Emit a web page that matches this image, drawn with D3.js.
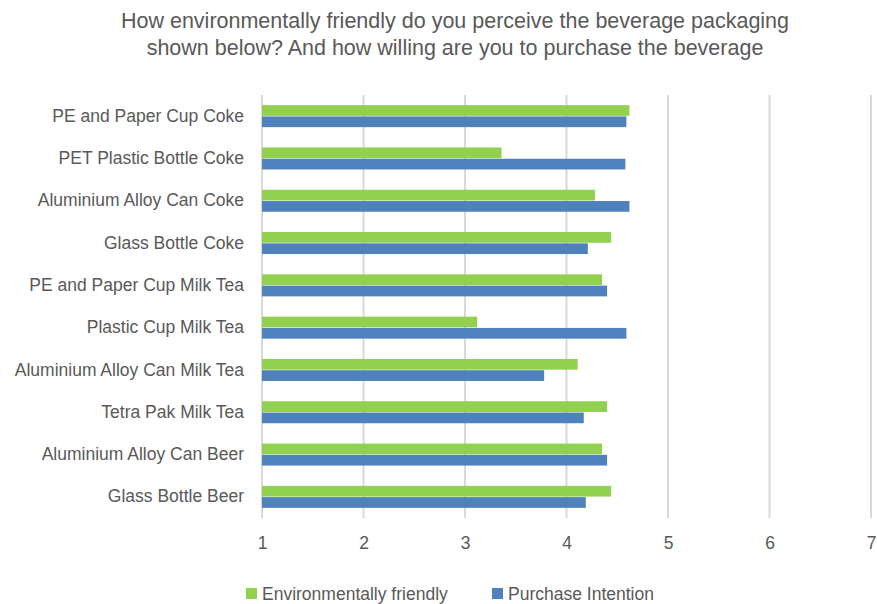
<!DOCTYPE html>
<html>
<head>
<meta charset="utf-8">
<script src="https://cdn.jsdelivr.net/npm/d3@7"></script>
<style>
  body { margin: 0; background: #fff; }
  text { font-family: "Liberation Sans", "DejaVu Sans", sans-serif; fill: #595959; }
</style>
</head>
<body>
<script>
// data
const categories = [
  "PE and Paper Cup Coke",
  "PET Plastic Bottle Coke",
  "Aluminium Alloy Can Coke",
  "Glass Bottle Coke",
  "PE and Paper Cup Milk Tea",
  "Plastic Cup Milk Tea",
  "Aluminium Alloy Can Milk Tea",
  "Tetra Pak Milk Tea",
  "Aluminium Alloy Can Beer",
  "Glass Bottle Beer"
];
const envFriendly = [4.62, 3.36, 4.28, 4.44, 4.35, 3.12, 4.11, 4.40, 4.35, 4.44];
const purchaseIntention = [4.59, 4.58, 4.62, 4.21, 4.40, 4.59, 3.78, 4.17, 4.40, 4.19];
const xTicks = [1, 2, 3, 4, 5, 6, 7];
const seriesNames = ["Environmentally friendly", "Purchase Intention"];
const colors = ["#92d050", "#4f81bd"];

const width = 877, height = 604;
const margin = {top: 95, right: 6, bottom: 86, left: 262};

const svg = d3.select("body").append("svg")
  .attr("width", width)
  .attr("height", height);

// title
svg.append("text")
  .attr("x", 455).attr("y", 28)
  .attr("text-anchor", "middle")
  .style("font-size", "21.5px")
  .text("How environmentally friendly do you perceive the beverage packaging");
svg.append("text")
  .attr("x", 455).attr("y", 55)
  .attr("text-anchor", "middle")
  .style("font-size", "21.5px")
  .text("shown below? And how willing are you to purchase the beverage");

let x = d3.scaleLinear()
  .domain([1, 7])
  .range([margin.left, width - margin.right]);

let y = d3.scaleBand()
  .domain(categories)
  .range([margin.top, height - margin.bottom])
  .paddingInner(0.48)
  .paddingOuter(0.24);

let sub = d3.scaleBand()
  .domain(seriesNames)
  .range([0, y.bandwidth()])
  .paddingInner(0.05);

// gridlines
svg.append("g")
  .selectAll("line")
  .data(xTicks)
  .enter()
  .append("line")
  .attr("x1", d => x(d)).attr("x2", d => x(d))
  .attr("y1", margin.top).attr("y2", height - margin.bottom)
  .attr("stroke", "#d9d9d9")
  .attr("stroke-width", 2);

// x axis labels
svg.append("g")
  .attr("transform", "translate(0," + (height - margin.bottom) + ")")
  .call(d3.axisBottom(x).tickValues(xTicks).tickSize(0).tickPadding(19).tickFormat(d3.format("d")))
  .call(g => g.select(".domain").remove())
  .selectAll("text")
  .style("font-size", "17.5px")
  .attr("fill", "#595959");

// y axis labels
svg.append("g")
  .attr("transform", "translate(" + margin.left + ",0)")
  .call(d3.axisLeft(y).tickSize(0).tickPadding(18))
  .call(g => g.select(".domain").remove())
  .selectAll("text")
  .style("font-size", "17.5px")
  .attr("fill", "#595959");

const series = [envFriendly, purchaseIntention];
series.forEach((vals, si) => {
  svg.append("g")
    .selectAll("rect")
    .data(vals)
    .enter()
    .append("rect")
    .attr("x", x(1))
    .attr("y", (d, i) => y(categories[i]) + sub(seriesNames[si]))
    .attr("width", d => x(d) - x(1))
    .attr("height", sub.bandwidth())
    .attr("fill", colors[si]);
});

// legend
const legendX = [246, 492];
seriesNames.forEach((name, i) => {
  svg.append("rect")
    .attr("x", legendX[i]).attr("y", 588)
    .attr("width", 11).attr("height", 11)
    .attr("fill", colors[i]);
  svg.append("text")
    .attr("x", legendX[i] + 16).attr("y", 600)
    .style("font-size", "17.5px")
    .text(name);
});
</script>
</body>
</html>
